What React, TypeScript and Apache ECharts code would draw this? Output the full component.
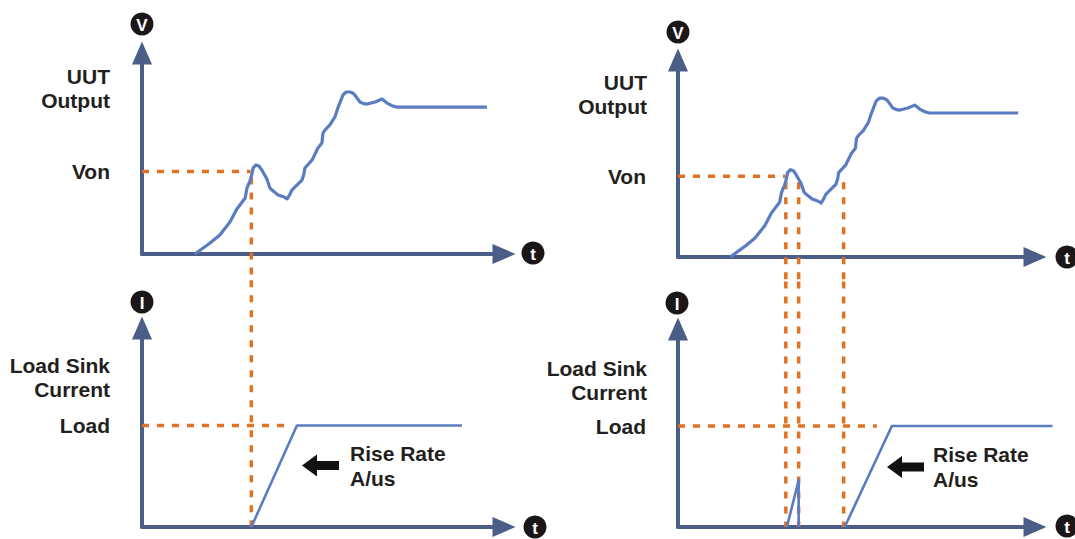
import React, { useEffect, useRef } from 'react';
import * as echarts from 'echarts';

// ---- data (time units 0..100, level units 0..100) ----
const voltageT = [14.6, 18.8, 21.5, 24.3, 26.2, 28.5, 29.0, 29.8, 30.2, 30.7, 31.5, 32.3, 33.1, 33.8, 34.5, 35.3, 35.9, 37.6, 39.3, 40.1, 40.8, 41.4, 42.8, 44.2, 44.7, 45.0, 46.0, 47.0, 48.6, 49.7, 50.0, 50.6, 51.9, 53.3, 54.1, 55.5, 56.4, 57.5, 58.3, 58.8, 60.2, 61.2, 62.2, 64.4, 66.3, 67.7, 69.3, 70.5, 95.3];
const voltageV = [0, 5.5, 9.5, 15.9, 22.4, 27.9, 32.8, 36.3, 38.5, 42.8, 44.3, 43.8, 41.8, 39.5, 37.3, 33.0, 31.8, 29.4, 28.3, 27.4, 29.5, 31.8, 34.3, 36.8, 39.5, 42.8, 44.8, 46.8, 52.7, 55.2, 60.2, 61.8, 64.2, 68.2, 72.6, 79.1, 80.6, 80.6, 80.0, 79.1, 75.6, 74.8, 74.6, 75.6, 77.1, 75.1, 73.6, 73.1, 73.1];

const vonLevel = 41;
const vonDashEnd = 30;
const markerTop = 38;
const markersLeft = [30.2];
const markersRight = [30.2, 33.8, 46.4];

const loadLevel = 51;
const loadDashEndLeft = 41.4;
const loadDashEndRight = 55.7;

const currentLeftT = [30.2, 42.8, 88.4];
const currentLeftI = [0, 51, 51];
const spikeRightT = [30.5, 33.8, 33.8];
const spikeRightI = [0, 23.7, 0];
const currentRightT = [46.7, 59.9, 104.9];
const currentRightI = [0, 51, 51];

const AXIS = '#4a5e88';
const CURVE = '#5a7cc0';
const ORANGE = '#e07226';
const TEXT = '#231f20';
const FONT = '"Liberation Sans", Arial, sans-serif';

const zip = (a: number[], b: number[]) => a.map((v, i) => [v, b[i]]);

export default function App() {
  const ref = useRef<HTMLDivElement>(null);
  useEffect(() => {
    if (!ref.current) return;
    const chart = echarts.init(ref.current, undefined, { renderer: 'svg' });

    const grids = [
      { left: 142, top: 53, width: 362, height: 201 },
      { left: 142, top: 328, width: 362, height: 199 },
      { left: 678, top: 60, width: 357, height: 197 },
      { left: 678, top: 329, width: 357, height: 198 },
      // overlay of the bottom-right panel with a longer time range (same scale)
      { left: 678, top: 329, width: 357 * 1.2, height: 198 },
    ];

    const axisLine = {
      show: true,
      onZero: false,
      symbol: ['none', 'triangle'],
      symbolSize: [20, 23],
      lineStyle: { color: AXIS, width: 4 },
    };

    const xAxes: any[] = grids.slice(0, 4).map((_, i) => ({
      type: 'value', gridIndex: i, min: 0, max: 100,
      axisLine, axisTick: { show: false }, axisLabel: { show: false }, splitLine: { show: false },
    }));
    xAxes.push({ type: 'value', gridIndex: 4, min: 0, max: 120, show: false });
    const yLabelVals = [vonLevel, loadLevel, vonLevel, loadLevel];
    const yLabelTexts = ['Von', 'Load', 'Von', 'Load'];
    const yAxes: any[] = grids.slice(0, 4).map((_, i) => ({
      type: 'value', gridIndex: i, min: 0, max: 100,
      axisLine, axisTick: { show: false }, splitLine: { show: false },
      axisLabel: {
        show: true,
        customValues: [yLabelVals[i]],
        formatter: () => yLabelTexts[i],
        margin: 32,
        color: TEXT, fontFamily: FONT, fontWeight: 'bold', fontSize: 21,
      },
    }));
    yAxes.push({ type: 'value', gridIndex: 4, min: 0, max: 100, show: false });

    const dashed = (g: number, data: number[][]) => ({
      type: 'line', xAxisIndex: g, yAxisIndex: g, data, symbol: 'none', clip: false,
      silent: true, z: 1,
      lineStyle: { color: ORANGE, width: 3.5, type: [7, 8] },
    });
    const solid = (g: number, data: number[][], w: number) => ({
      type: 'line', xAxisIndex: g, yAxisIndex: g, data, symbol: 'none', clip: false,
      silent: true, z: 3,
      lineStyle: { color: CURVE, width: w, join: 'round' },
    });

    const curve = zip(voltageT, voltageV);
    const series: any[] = [];
    // top-left
    series.push(dashed(0, [[0, vonLevel], [vonDashEnd, vonLevel]]));
    markersLeft.forEach((t) => series.push(dashed(0, [[t, markerTop], [t, -13]])));
    series.push(solid(0, curve, 3.2));
    // bottom-left
    series.push(dashed(1, [[0, loadLevel], [loadDashEndLeft, loadLevel]]));
    markersLeft.forEach((t) => series.push(dashed(1, [[t, 124], [t, 0]])));
    series.push(solid(1, zip(currentLeftT, currentLeftI), 2.6));
    // top-right
    series.push(dashed(2, [[0, vonLevel], [vonDashEnd, vonLevel]]));
    markersRight.forEach((t) => series.push(dashed(2, [[t, markerTop], [t, -13]])));
    series.push(solid(2, curve, 3.2));
    // bottom-right
    series.push(dashed(3, [[0, loadLevel], [loadDashEndRight, loadLevel]]));
    markersRight.forEach((t) => series.push(dashed(3, [[t, 124], [t, 0]])));
    series.push(solid(3, zip(spikeRightT, spikeRightI), 2.6));
    series.push(solid(4, zip(currentRightT, currentRightI), 2.6));

    const badge = (cx: number, cy: number, label: string) => ({
      type: 'group', x: cx, y: cy, children: [
        { type: 'circle', shape: { cx: 0, cy: 0, r: 11.5 }, style: { fill: '#1b1718' } },
        { type: 'text', style: { text: label, x: 0, y: 1, align: 'center', verticalAlign: 'middle', fill: '#fff', fontFamily: FONT, fontWeight: 'bold', fontSize: 17 } },
      ],
    });
    const title = (x: number, y: number, text: string) => ({
      type: 'text', x, y,
      style: { text, align: 'right', verticalAlign: 'middle', fill: TEXT, fontFamily: FONT, fontWeight: 'bold', fontSize: 21, lineHeight: 24 },
    });
    const rise = (x: number, y: number) => ({
      type: 'text', x, y,
      style: { text: 'Rise Rate\nA/us', align: 'left', verticalAlign: 'middle', fill: TEXT, fontFamily: FONT, fontWeight: 'bold', fontSize: 21, lineHeight: 25 },
    });
    const blackArrow = (tipX: number, y: number) => ({
      type: 'polygon', x: tipX, y,
      shape: { points: [[0, 0], [15, -11], [15, -4.5], [37, -4.5], [37, 4.5], [15, 4.5], [15, 11]] },
      style: { fill: '#111' },
    });

    chart.setOption({
      animation: false,
      backgroundColor: '#fff',
      grid: grids.map((g) => ({ ...g, containLabel: false, outerBoundsMode: 'none' })),
      xAxis: xAxes,
      yAxis: yAxes,
      series,
      graphic: [
        badge(142, 24, 'V'), badge(533, 253, 't'),
        badge(142, 302, 'I'), badge(535, 527, 't'),
        badge(678, 32, 'V'), badge(1067, 257, 't'),
        badge(677, 303, 'I'), badge(1067, 526, 't'),
        title(110, 88, 'UUT\nOutput'),
        title(110, 377, 'Load Sink\nCurrent'),
        title(647, 94, 'UUT\nOutput'),
        title(647, 380, 'Load Sink\nCurrent'),
        rise(350, 466), rise(933, 467),
        blackArrow(302, 465.5), blackArrow(887, 467),
      ],
    });
    return () => chart.dispose();
  }, []);
  return <div ref={ref} style={{ position: 'absolute', left: 0, top: 0, width: 1075, height: 539 }} />;
}
